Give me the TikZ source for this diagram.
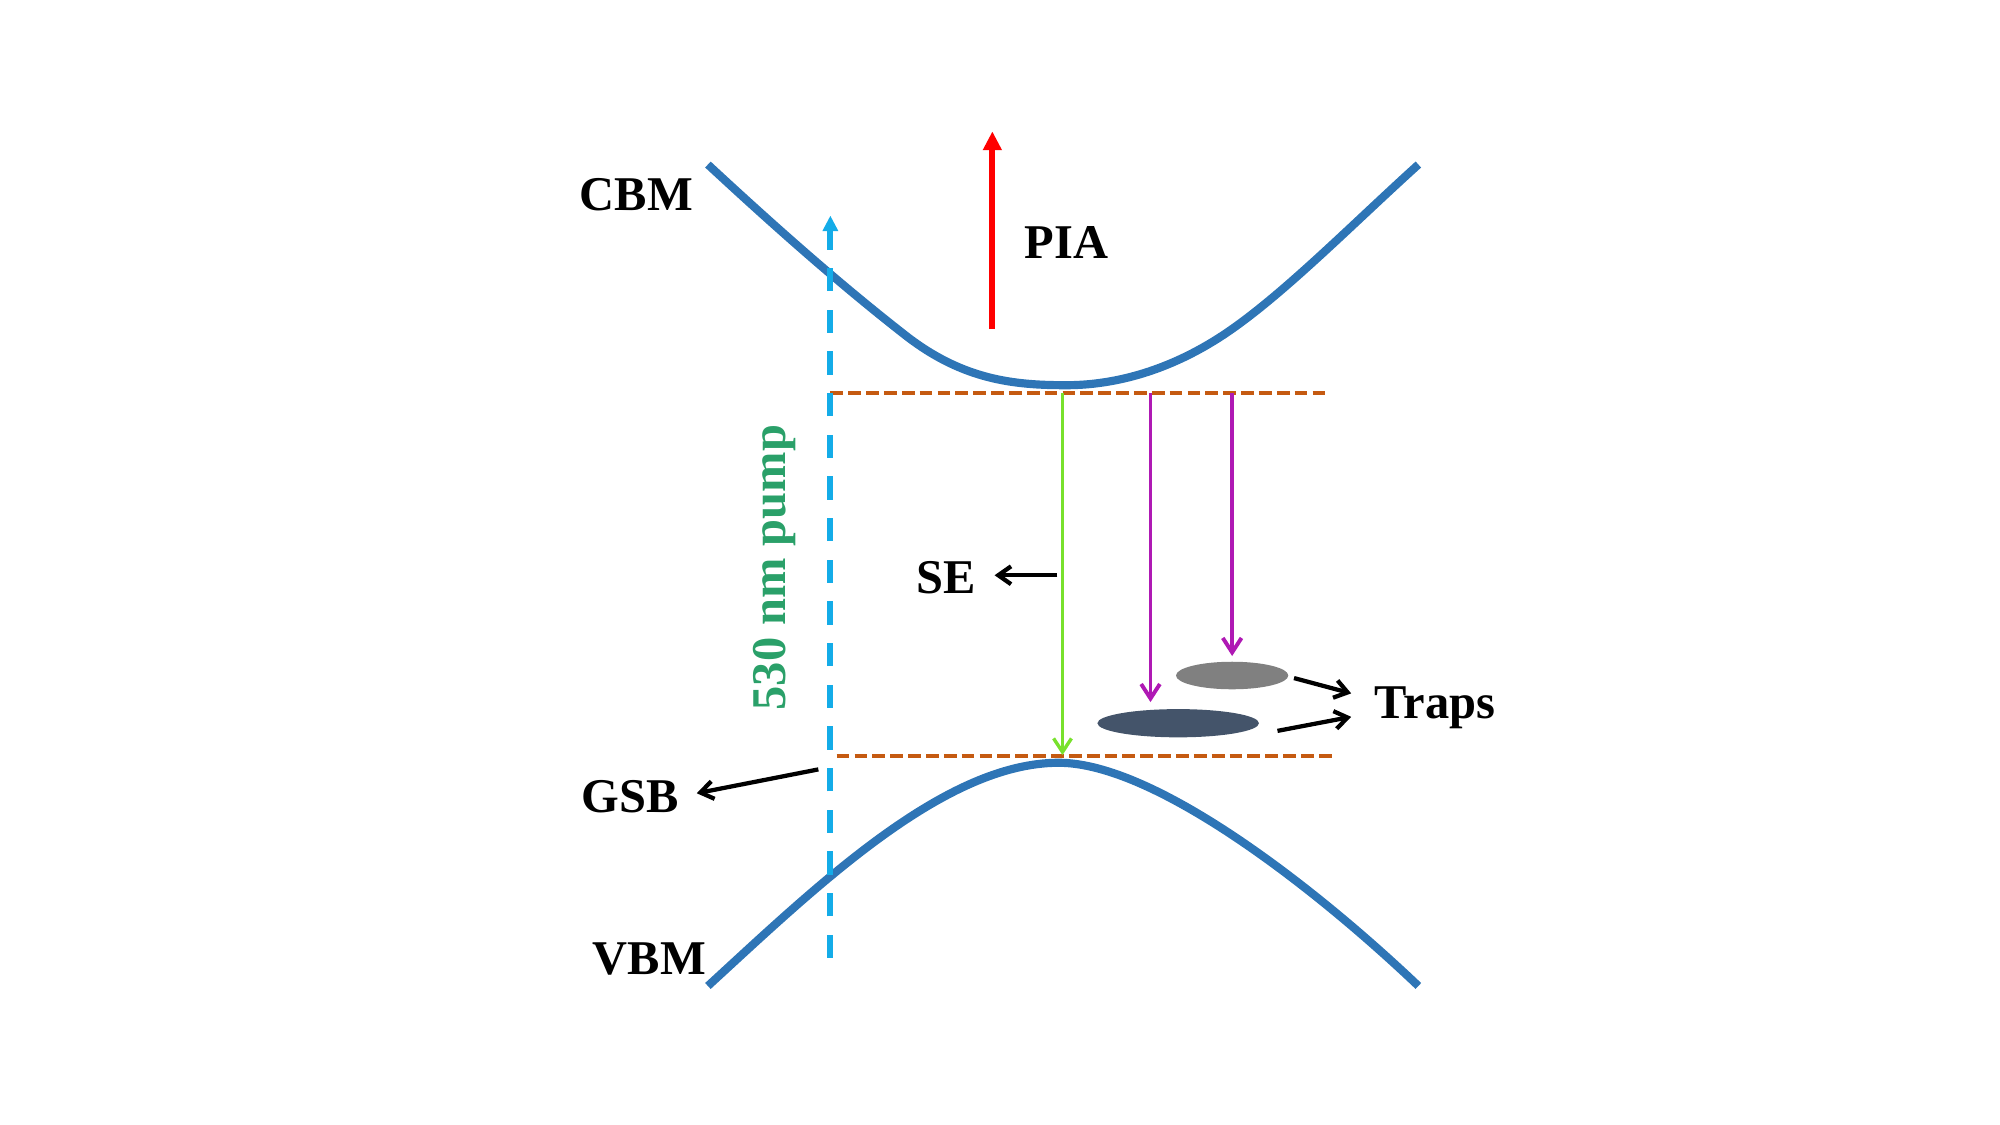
\documentclass[tikz,border=0pt]{standalone}
\usepackage{fontspec}
\setmainfont{Liberation Serif}
\usetikzlibrary{arrows.meta,calc,shapes.geometric}

\definecolor{bandblue}{RGB}{46,117,182}
\definecolor{pumpblue}{RGB}{20,172,232}
\definecolor{lvlorange}{RGB}{197,90,17}
\definecolor{piared}{RGB}{255,0,0}
\definecolor{segreen}{RGB}{120,225,45}
\definecolor{trapmag}{RGB}{175,25,180}
\definecolor{trapgray}{RGB}{128,128,128}
\definecolor{trapdark}{RGB}{68,84,106}
\definecolor{pumptxt}{RGB}{42,160,105}

\tikzset{every picture/.style={line width=0.75pt}}
\tikzset{
	band/.style={draw=bandblue, line width=4.8pt},
	level/.style={draw=lvlorange, line width=2.3pt, dash pattern=on 7.5pt off 3pt},
	pumpline/.style={draw=pumpblue, line width=3.4pt, dash pattern=on 13.7pt off 10.8pt, -{Triangle[length=9.2pt,width=8.8pt]}},
	pialine/.style={draw=piared, line width=3.4pt, -{Triangle[length=11pt,width=10.5pt]}},
	seline/.style={draw=segreen, line width=2pt, -{Straight Barb[length=8pt,width=10.5pt]}},
	trapline/.style={draw=trapmag, line width=2.3pt, -{Straight Barb[length=8.5pt,width=11pt]}},
	pointer/.style={draw=black, line width=2.5pt, -{Straight Barb[length=7.5pt,width=10.5pt]}},
	lbl/.style={font=\bfseries\fontsize{28.5}{34}\selectfont, inner sep=0pt, anchor=base},
	trap/.style={ellipse, inner sep=0pt, draw=none}
}

\begin{document}
\begin{tikzpicture}[x=0.75pt,y=0.75pt,yscale=-1,xscale=1]
	\useasboundingbox (0,0) rectangle (1568,882);

	%Curve Lines: conduction band
	\draw [band]  (555,129) .. controls (610,180) and (660,224) .. (710,263) .. controls (755,298) and (795,302) .. (836,302) .. controls (875,302) and (918,290) .. (960,262) .. controls (1005,232) and (1060,176) .. (1112,129) ;
	%Curve Lines: valence band
	\draw [band]  (555,773) .. controls (640,695) and (740,598) .. (830,598) .. controls (905,598) and (1030,695) .. (1112,773) ;

	%Straight Lines: band edge levels
	\coordinate (cbmL) at (651,308);
	\coordinate (cbmR) at (1040,308);
	\coordinate (vbmL) at (656,593);
	\coordinate (vbmR) at (1045,593);
	\draw [level] (cbmL) -- (cbmR) ;
	\draw [level] (vbmL) -- (vbmR) ;

	%Straight Lines: pump
	\coordinate (pumpS) at (651,751);
	\coordinate (pumpE) at (651,169);
	\draw [pumpline] (pumpS) -- (pumpE) ;

	%Straight Lines: PIA
	\coordinate (piaS) at (778,258);
	\coordinate (piaE) at (778,103);
	\draw [pialine] (piaS) -- (piaE) ;

	%Shape: Ellipse (traps)
	\node [trap, fill=trapgray, minimum width=66pt, minimum height=16.2pt] (shallow) at (966,529.6) {};
	\node [trap, fill=trapdark, minimum width=95pt, minimum height=16.6pt] (deep) at (923.7,567) {};

	% Text Node
	\node [lbl] (cbm) at (499,165) {CBM};
	% Text Node
	\node [lbl] (vbm) at (509,764) {VBM};
	% Text Node
	\node [lbl] (pia) at (836,203) {PIA};
	% Text Node
	\node [lbl] (se) at (742,465) {SE};
	% Text Node
	\node [lbl] (gsb) at (494,637) {GSB};
	% Text Node
	\node [lbl] (traps) at (1125,563) {Traps};
	% Text Node
	\node [lbl, rotate=90, text=pumptxt] (pumplbl) at (616,445) {530 nm pump};

	%Straight Lines: SE and trapping
	\coordinate (seS) at (833,308);
	\coordinate (seE) at (833,592);
	\draw [seline] (seS) -- (seE) ;
	\coordinate (tr1) at (902,308);
	\coordinate (tr2) at (966,308);
	\draw [trapline, shorten >=3.75pt] (tr1) -- (tr1 |- deep.north) ;
	\draw [trapline, shorten >=3pt] (tr2) -- (tr2 |- shallow.north) ;

	%Straight Lines: pointers to labels
	\coordinate (seO) at ($(seS)!0.5!(seE)+(-4,1)$);
	\draw [pointer, shorten >=10.5pt] (seO) -- (se.east |- seO) ;
	\coordinate (gsbO) at (641.6,603.2);
	\draw [pointer, shorten >=10.5pt] (gsbO) -- (gsb.east) ;
	\draw [pointer] ($(shallow.east)+(4,2)$) -- ($(traps.west)+(-18,-11)$) ;
	\draw [pointer] ($(deep.east)+(14,6)$) -- ($(traps.west)+(-18,7.4)$) ;

\end{tikzpicture}
\end{document}
